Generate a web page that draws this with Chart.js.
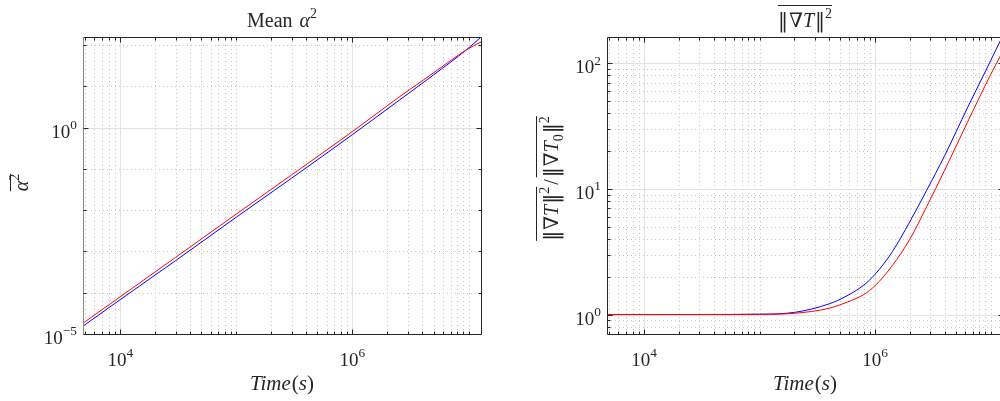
<!DOCTYPE html>
<html>
<head>
<meta charset="utf-8">
<script src="https://cdn.jsdelivr.net/npm/chart.js@4.4.1/dist/chart.umd.min.js"></script>
<style>
html, body { margin: 0; padding: 0; background: #fff; overflow: hidden; width: 1000px; height: 401px; }
#alphaChart { position: absolute; left: 0; top: 0; }
#gradChart { position: absolute; left: 500px; top: 0; }
</style>
</head>
<body>
<canvas id="alphaChart" width="500" height="401"></canvas>
<canvas id="gradChart" width="510" height="401"></canvas>
<script>
// Mean alpha^2 (left panel)
const alphaTime = [4780, 1e4, 3e4, 1e5, 3e5, 1e6, 2.56e6, 5e6, 9.6e6, 1.28e7];
const alphaRed  = [1.83e-5, 8.0e-5, 7.2e-4, 8.1e-3, 0.072, 0.81, 5.7, 21.4, 77.4, 120];
const alphaBlue = [1.55e-5, 6.8e-5, 6.0e-4, 6.8e-3, 0.060, 0.68, 4.76, 19.1, 77.4, 157];

// normalised mean squared gradient (right panel)
const gradTime = [4780, 1e4, 3.16e4, 1e5, 2e5, 4e5, 5.6e5, 8e5, 1e6, 1.41e6, 2e6, 2.8e6, 4e6, 6.3e6, 1e7, 1.2e7, 1.28e7];
const gradRed  = [1.0, 1.0, 1.0, 1.004, 1.023, 1.122, 1.245, 1.445, 1.698, 2.455, 3.98, 7.24, 14.1, 33.9, 81.3, 112, 126];
const gradBlue = [1.0, 1.0, 1.001, 1.006, 1.04, 1.216, 1.396, 1.718, 2.089, 3.162, 5.495, 9.77, 18.4, 44.2, 104.7, 148, 166];

// labelled ticks
const timeTickLabels  = [1e4, 1e6];
const alphaTickLabels = [1e-5, 1e0];
const gradTickLabels  = [1e0, 1e1, 1e2];

const SERIF = '"Liberation Serif", "DejaVu Serif", serif';
const SYM = '"DejaVu Serif", "Liberation Serif", serif';
const DARK = '#262626';

function drawMath(ctx, parts, x, y, size, align, overlines) {
    const pos = [];
    let w = 0;
    parts.forEach(p => {
        const s = (p.sup || p.sub) ? size * 0.7 : size;
        const font = (p.it ? 'italic ' : '') + s + 'px ' + (p.sym ? SYM : SERIF);
        ctx.font = font;
        const pw = ctx.measureText(p.t).width;
        pos.push({ x: w, w: pw, font: font, dy: p.sup ? -size * 0.45 : (p.sub ? size * 0.25 : 0) });
        w += pw + (p.gap || 0);
    });
    const x0 = align === 'center' ? x - w / 2 : (align === 'right' ? x - w : x);
    ctx.textAlign = 'left';
    ctx.textBaseline = 'alphabetic';
    ctx.fillStyle = DARK;
    parts.forEach((p, i) => {
        ctx.font = pos[i].font;
        ctx.fillText(p.t, x0 + pos[i].x, y + pos[i].dy);
    });
    (overlines || []).forEach(o => {
        const a = x0 + pos[o[0]].x, b = x0 + pos[o[1]].x + pos[o[1]].w;
        ctx.strokeStyle = DARK;
        ctx.lineWidth = 1;
        ctx.beginPath();
        ctx.moveTo(a, Math.round(y - o[2]) + 0.5);
        ctx.lineTo(b, Math.round(y - o[2]) + 0.5);
        ctx.stroke();
    });
}

function powLabel(v) {
    const e = Math.round(Math.log10(v));
    return [{ t: '10' }, { t: (e < 0 ? '\u2212' : '') + Math.abs(e), sup: true }];
}

function decadeTicks(min, max, subs, isMajor) {
    const out = [];
    for (let d = Math.floor(Math.log10(min)) - 1; d <= Math.ceil(Math.log10(max)); d++) {
        subs.forEach(m => {
            const v = m * Math.pow(10, d);
            if (v >= min * 0.999 && v <= max * 1.001) out.push({ v: v, major: isMajor(v, m) });
        });
    }
    return out;
}

function isLabelled(list, v) {
    return list.some(t => Math.abs(Math.log10(t) - Math.log10(v)) < 1e-6);
}

function panelPlugin(cfg) {
    return {
        id: 'panel',
        beforeDatasetsDraw(chart) {
            const { ctx, chartArea: a, scales: { x, y } } = chart;
            ctx.save();
            ctx.lineWidth = 1;
            // minor dotted grid first, then solid major grid
            [false, true].forEach(majorPass => {
                ctx.strokeStyle = majorPass ? '#e2e2e2' : '#c8c8c8';
                ctx.setLineDash(majorPass ? [] : [1, 3]);
                cfg.xTicks.filter(t => t.major === majorPass).forEach(t => {
                    const px = Math.round(x.getPixelForValue(t.v)) + 0.5;
                    ctx.beginPath(); ctx.moveTo(px, a.top); ctx.lineTo(px, a.bottom); ctx.stroke();
                });
                cfg.yTicks.filter(t => t.major === majorPass).forEach(t => {
                    const py = Math.round(y.getPixelForValue(t.v)) + 0.5;
                    ctx.beginPath(); ctx.moveTo(a.left, py); ctx.lineTo(a.right, py); ctx.stroke();
                });
            });
            ctx.restore();
        },
        afterDraw(chart) {
            const { ctx, chartArea: a, scales: { x, y } } = chart;
            ctx.save();
            ctx.setLineDash([]);
            ctx.lineWidth = 1;
            const L = Math.round(a.left) + 0.5, R = Math.round(a.right) + 0.5;
            const T = Math.round(a.top) + 0.5, B = Math.round(a.bottom) + 0.5;
            // box
            ctx.strokeStyle = DARK;
            ctx.beginPath();
            ctx.moveTo(L, T); ctx.lineTo(R, T); ctx.lineTo(R, B); ctx.lineTo(L, B);
            ctx.stroke();
            ctx.strokeStyle = cfg.leftBorder;
            ctx.beginPath(); ctx.moveTo(L, T); ctx.lineTo(L, B); ctx.stroke();
            // inward ticks on all four sides
            ctx.strokeStyle = DARK;
            cfg.xTicks.forEach(t => {
                const px = Math.round(x.getPixelForValue(t.v)) + 0.5;
                const len = t.major ? 5 : 3;
                ctx.beginPath();
                ctx.moveTo(px, B); ctx.lineTo(px, B - len);
                ctx.moveTo(px, T); ctx.lineTo(px, T + len);
                ctx.stroke();
            });
            cfg.yTicks.forEach(t => {
                const py = Math.round(y.getPixelForValue(t.v)) + 0.5;
                const len = t.major ? 5 : 3;
                ctx.beginPath();
                ctx.moveTo(L, py); ctx.lineTo(L + len, py);
                ctx.moveTo(R, py); ctx.lineTo(R - len, py);
                ctx.stroke();
            });
            // tick labels
            timeTickLabels.forEach(v => {
                drawMath(ctx, powLabel(v), x.getPixelForValue(v), a.bottom + 32, 19, 'center');
            });
            cfg.yLabels.forEach(v => {
                drawMath(ctx, powLabel(v), a.left - 6, y.getPixelForValue(v) + 10, 19, 'right');
            });
            const cx = (a.left + a.right) / 2;
            // title
            drawMath(ctx, cfg.title, cx, 27, 20, 'center', cfg.titleOver);
            // x label
            drawMath(ctx, [{ t: 'Time', it: true, gap: 1 }, { t: '(' }, { t: 's', it: true }, { t: ')' }], cx, 390, 21, 'center');
            // y label, rotated
            ctx.translate(cfg.yLabelX, (a.top + a.bottom) / 2 - cfg.yLabelShift);
            ctx.rotate(-Math.PI / 2);
            drawMath(ctx, cfg.yLabel, 0, 0, 20, 'center', cfg.yLabelOver);
            ctx.restore();
        }
    };
}

function makeChart(id, time, red, blue, xMin, xMax, yMin, yMax, yWidth, padRight, cfg) {
    const toPoints = (vals) => vals.map((v, i) => ({ x: time[i], y: v }));
    return new Chart(document.getElementById(id).getContext('2d'), {
        type: 'line',
        data: {
            datasets: [
                // first dataset ends up on top
                { data: toPoints(red), borderColor: '#ff0000', borderWidth: 1, pointRadius: 0, cubicInterpolationMode: 'monotone', fill: false },
                { data: toPoints(blue), borderColor: '#0000ff', borderWidth: 1, pointRadius: 0, cubicInterpolationMode: 'monotone', fill: false }
            ]
        },
        options: {
            responsive: false,
            animation: false,
            devicePixelRatio: 1,
            layout: { padding: { top: 37, right: padRight, left: 0, bottom: 0 } },
            plugins: { legend: { display: false }, tooltip: { enabled: false }, title: { display: false } },
            scales: {
                x: {
                    type: 'logarithmic', min: xMin, max: xMax,
                    grid: { display: false }, border: { display: false },
                    ticks: { display: false },
                    afterFit: (s) => { s.height = 67; }
                },
                y: {
                    type: 'logarithmic', min: yMin, max: yMax,
                    grid: { display: false }, border: { display: false },
                    ticks: { display: false },
                    afterFit: (s) => { s.width = yWidth; }
                }
            }
        },
        plugins: [panelPlugin(cfg)]
    });
}

document.addEventListener('DOMContentLoaded', function() {
    const xMin = 4780, xMax = 1.28e7;
    const xTicks = decadeTicks(xMin, xMax, [1, 2, 3, 4, 5, 6, 7, 8, 9], (v) => isLabelled(timeTickLabels, v));

    makeChart('alphaChart', alphaTime, alphaRed, alphaBlue, xMin, xMax, 1e-5, 158, 83, 19, {
        xTicks: xTicks,
        yTicks: decadeTicks(1e-5, 158, [1], (v) => isLabelled(alphaTickLabels, v)),
        yLabels: alphaTickLabels,
        leftBorder: '#8a8a8a',
        title: [{ t: 'Mean ', gap: 2 }, { t: '\u03b1', it: true }, { t: '2', sup: true }],
        titleOver: [],
        yLabelX: 28, yLabelShift: 3,
        yLabel: [{ t: '\u03b1', it: true }, { t: '2', sup: true }],
        yLabelOver: [[0, 1, 18]]
    });

    makeChart('gradChart', gradTime, gradRed, gradBlue, xMin, xMax, 0.706, 162, 107, 7, {
        xTicks: xTicks,
        yTicks: decadeTicks(0.706, 162, [1, 2, 3, 4, 5, 6, 7, 8, 9], (v, m) => m === 1),
        yLabels: gradTickLabels,
        leftBorder: DARK,
        title: [{ t: '\u2016', sym: true, gap: 1 }, { t: '\u2207', sym: true }, { t: 'T', it: true, gap: 1 }, { t: '\u2016', sym: true }, { t: '2', sup: true }],
        titleOver: [[0, 4, 22]],
        yLabelX: 58, yLabelShift: 7,
        yLabel: [
            { t: '\u2016', sym: true, gap: 1 }, { t: '\u2207', sym: true }, { t: 'T', it: true, gap: 1 }, { t: '\u2016', sym: true }, { t: '2', sup: true, gap: 2 },
            { t: '/', gap: 2 },
            { t: '\u2016', sym: true, gap: 1 }, { t: '\u2207', sym: true }, { t: 'T', it: true }, { t: '0', sub: true, gap: 1 }, { t: '\u2016', sym: true }, { t: '2', sup: true }
        ],
        yLabelOver: [[0, 4, 22], [6, 11, 22]]
    });
});
</script>
</body>
</html>
